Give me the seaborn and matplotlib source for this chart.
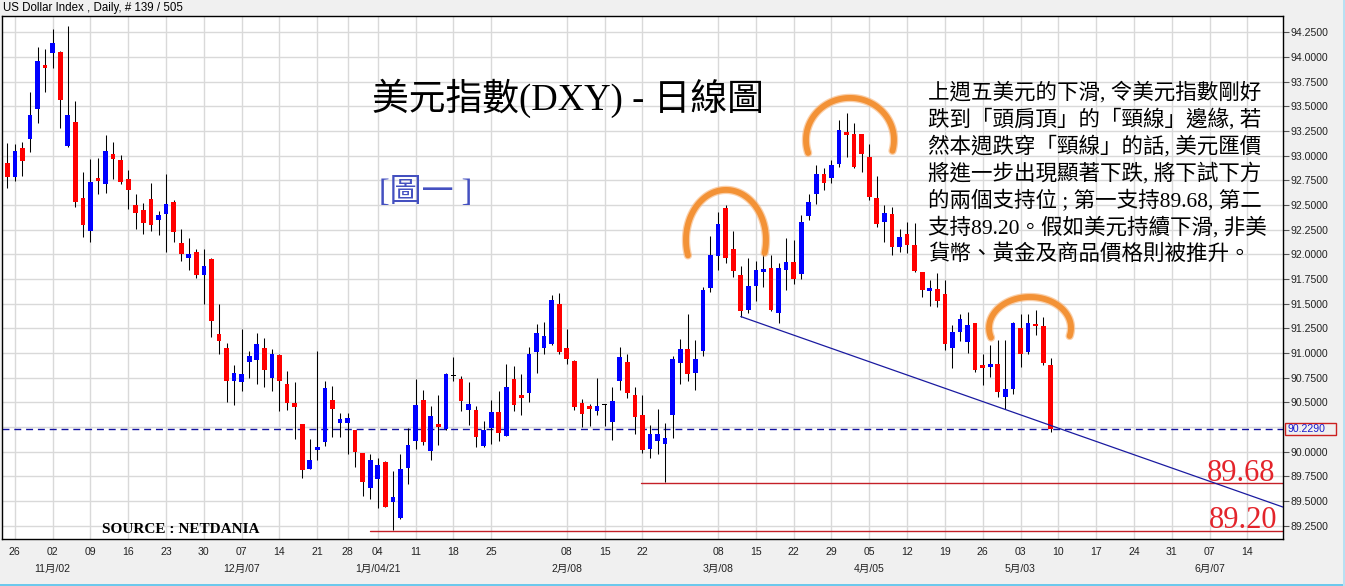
import numpy as np
import pandas as pd
import matplotlib
matplotlib.use("Agg")
import matplotlib.pyplot as plt
from matplotlib.patches import Rectangle
import seaborn as sns

# ---------------- data (daily OHLC, 23 Oct 2020 .. 7 May 2021, trading-day index) ----------------
opens = [92.93, 92.78, 93.08, 93.17, 93.47, 93.92, 94.04, 94.05, 93.10, 93.34,
         92.57, 92.24, 92.765, 92.71, 93.02, 92.96, 92.76, 92.50, 92.45, 92.56,
         92.35, 92.41, 92.53, 92.11, 91.96, 92.02, 91.79, 91.95, 91.19, 91.05,
         90.72, 90.71, 90.91, 90.93, 91.05, 90.75, 90.98, 90.69, 90.49, 90.28,
         89.83, 90.03, 90.10, 90.52, 90.29, 90.29, 90.22, 89.99, 89.63, 89.72,
         89.90, 89.49, 89.33, 89.84, 90.11, 90.52, 90.01, 90.28, 90.23, 90.775,
         90.74, 90.42, 90.42, 90.06, 90.24, 90.40, 90.16, 90.74, 90.57, 90.60,
         91.01, 91.05, 91.09, 91.50, 91.05, 90.92, 90.49, 90.46, 90.41, 90.48,
         90.30, 90.72, 90.91, 90.57, 90.37, 90.03, 90.11, 90.08, 90.37, 90.90,
         91.04, 90.80, 91.02, 91.66, 91.98, 92.47, 92.05, 91.79, 91.44, 91.68,
         91.83, 91.86, 91.41, 91.84, 91.92, 91.80, 92.39, 92.61, 92.81, 92.77,
         92.92, 93.24, 93.22, 93.22, 92.99, 92.57, 92.33, 92.41, 92.07, 92.21,
         92.09, 91.82, 91.63, 91.65, 91.60, 91.05, 91.21, 91.11, 91.30, 90.88,
         90.87, 90.89, 90.55, 90.64, 91.25, 91.01, 91.29, 91.27, 90.88]
highs = [93.13, 93.12, 93.14, 93.65, 94.10, 94.08, 94.28, 94.06, 94.31, 93.55,
         92.83, 92.97, 92.98, 93.21, 93.14, 93.01, 92.85, 92.61, 92.52, 92.72,
         92.44, 92.81, 92.55, 92.26, 92.17, 92.05, 92.05, 91.96, 91.50, 91.10,
         90.88, 91.24, 91.02, 91.20, 91.15, 91.04, 90.99, 90.82, 90.71, 90.28,
         90.13, 91.02, 90.72, 90.67, 90.39, 90.39, 90.22, 89.99, 89.98, 89.94,
         89.91, 89.80, 89.98, 90.24, 90.74, 90.63, 90.46, 90.58, 90.80, 90.96,
         90.77, 90.71, 90.46, 90.31, 90.52, 90.62, 90.89, 90.87, 90.79, 91.06,
         91.29, 91.31, 91.59, 91.61, 91.24, 90.93, 90.53, 90.48, 90.75, 90.48,
         90.66, 91.06, 90.99, 90.66, 90.58, 90.27, 90.43, 90.29, 90.97, 91.14,
         91.40, 91.13, 91.67, 92.19, 92.43, 92.50, 92.24, 91.88, 91.96, 91.93,
         92.03, 91.99, 91.91, 92.17, 92.15, 92.40, 92.61, 92.91, 92.87, 92.96,
         93.36, 93.43, 93.33, 93.22, 93.12, 92.79, 92.50, 92.48, 92.26, 92.33,
         92.32, 91.82, 91.74, 91.81, 91.74, 91.28, 91.40, 91.42, 91.30, 90.99,
         91.08, 91.13, 91.13, 91.31, 91.40, 91.40, 91.44, 91.37, 90.95]
lows = [92.67, 92.74, 92.79, 93.04, 93.33, 93.65, 93.89, 93.28, 93.09, 92.48,
        92.18, 92.13, 92.61, 92.62, 92.76, 92.71, 92.46, 92.26, 92.21, 92.24,
        92.20, 92.02, 92.13, 91.93, 91.84, 91.76, 91.50, 91.16, 90.99, 90.50,
        90.47, 90.62, 90.75, 90.69, 90.66, 90.62, 90.41, 90.42, 90.13, 89.73,
        89.83, 89.92, 90.06, 90.15, 90.15, 89.98, 89.85, 89.55, 89.52, 89.43,
        89.44, 89.21, 89.32, 89.67, 90.03, 90.07, 89.92, 90.07, 90.22, 90.72,
        90.41, 90.27, 90.05, 90.05, 90.08, 90.11, 90.16, 90.41, 90.37, 90.50,
        90.80, 90.99, 91.08, 90.99, 90.89, 90.42, 90.25, 90.26, 90.37, 90.26,
        90.12, 90.63, 90.54, 90.18, 89.99, 89.94, 89.98, 89.69, 90.14, 90.69,
        90.72, 90.63, 90.97, 91.62, 91.84, 91.91, 91.77, 91.37, 91.41, 91.53,
        91.67, 91.43, 91.30, 91.64, 91.70, 91.75, 92.35, 92.51, 92.65, 92.72,
        92.88, 92.99, 92.87, 92.83, 92.55, 92.28, 92.13, 91.99, 92.02, 92.01,
        91.82, 91.57, 91.48, 91.47, 91.03, 90.85, 91.12, 91.00, 90.81, 90.68,
        90.76, 90.55, 90.43, 90.59, 90.86, 90.99, 91.18, 90.88, 90.20]
closes = [92.78, 93.05, 92.95, 93.41, 93.96, 93.89, 94.14, 93.56, 93.41, 92.53,
          92.30, 92.73, 92.755, 93.05, 92.97, 92.73, 92.65, 92.42, 92.32, 92.30,
          92.40, 92.51, 92.23, 92.00, 92.00, 91.79, 91.88, 91.32, 91.12, 90.72,
          90.80, 90.79, 90.97, 91.09, 90.83, 90.99, 90.72, 90.49, 90.45, 89.82,
          89.92, 90.04, 90.65, 90.43, 90.33, 90.34, 90.00, 89.69, 89.92, 89.87,
          89.44, 89.54, 89.83, 90.07, 90.47, 90.10, 90.36, 90.25, 90.79, 90.775,
          90.51, 90.48, 90.15, 90.22, 90.40, 90.19, 90.66, 90.47, 90.55, 90.99,
          91.20, 91.17, 91.54, 91.01, 90.94, 90.45, 90.38, 90.43, 90.46, 90.48,
          90.51, 90.96, 90.60, 90.35, 90.02, 90.18, 90.18, 90.14, 90.94, 91.04,
          90.79, 90.94, 91.64, 91.99, 92.31, 91.96, 91.83, 91.43, 91.68, 91.84,
          91.84, 91.44, 91.86, 91.92, 91.75, 92.33, 92.53, 92.81, 92.72, 92.91,
          93.26, 93.21, 92.88, 93.02, 92.58, 92.31, 92.42, 92.07, 92.18, 92.09,
          91.83, 91.64, 91.66, 91.53, 91.09, 91.21, 91.34, 91.28, 90.83, 90.85,
          90.88, 90.61, 90.64, 91.30, 90.99, 91.30, 91.28, 90.90, 90.229]

# x-axis: trading-day index of each labelled Monday
tick_idx = [1, 6, 11, 16, 21, 26, 31, 36, 41, 45, 49, 54, 59, 64, 74, 79, 84,
            94, 99, 104, 109, 114, 119, 124, 129, 134, 139, 144, 149, 154, 159, 164]
tick_lbl = ['26', '02', '09', '16', '23', '30', '07', '14', '21', '28', '04', '11',
            '18', '25', '08', '15', '22', '08', '15', '22', '29', '05', '12', '19',
            '26', '03', '10', '17', '24', '31', '07', '14']
month_idx = [6, 31, 49, 74, 94, 114, 134, 159]
month_lbl = ['11月/02', '12月/07', '1月/04/21', '2月/08', '3月/08', '4月/05', '5月/03', '6月/07']

y_tick_vals = [89.25, 89.5, 89.75, 90.0, 90.5, 90.75, 91.0, 91.25, 91.5, 91.75,
               92.0, 92.25, 92.5, 92.75, 93.0, 93.25, 93.5, 93.75, 94.0, 94.25]
extra_grid = [90.25]

last_price = 90.229
support_levels = [89.68, 89.20]
support_start = [83.8, 48.0]
neck_x = [97.0, 168.7]
neck_y = [91.37, 89.44]

paragraph = [
    "上週五美元的下滑, 令美元指數剛好",
    "跌到「頭肩頂」的「頸線」邊緣, 若",
    "然本週跌穿「頸線」的話, 美元匯價",
    "將進一步出現顯著下跌, 將下試下方",
    "的兩個支持位 ; 第一支持89.68, 第二",
    "支持89.20。假如美元持續下滑, 非美",
    "貨幣、黃金及商品價格則被推升。",
]

# ---------------- styling ----------------
sns.set_style("white")
plt.rcParams['font.family'] = ['Liberation Sans', 'Noto Sans CJK TC']
SERIF = ['Liberation Serif', 'Noto Sans CJK TC']

W, H = 1345, 586
fig = plt.figure(figsize=(W / 100, H / 100), dpi=100, facecolor='#f0f0f0')
px_l, px_r, px_t, px_b = 2.0, 1282.5, 15.7, 539.3
ax = fig.add_axes([px_l / W, 1 - px_b / H, (px_r - px_l) / W, (px_b - px_t) / H])
ax.set_facecolor('white')
ax.set_xlim(-0.70, 168.65)
ax.set_ylim(89.113, 94.418)

df = pd.DataFrame({'o': opens, 'h': highs, 'l': lows, 'c': closes})
df['i'] = np.arange(len(df))

# grid
ax.set_xticks(tick_idx)
ax.set_xticklabels([''] * len(tick_idx))
ax.set_yticks(y_tick_vals)
ax.set_yticklabels([f"{v:.4f}" for v in y_tick_vals])
ax.grid(True, color='#d9d9d9', lw=1.0, zorder=0)
for g in extra_grid:
    ax.axhline(g, color='#d9d9d9', lw=1.0, zorder=0)
ax.set_axisbelow(True)

ax.tick_params(axis='x', length=0)
ax.yaxis.tick_right()
ax.tick_params(axis='y', direction='out', length=4, width=0.8, color='#555555',
               labelsize=7.6, labelcolor='#222222', pad=1.5)
for s in ax.spines.values():
    s.set_color('black')
    s.set_linewidth(1.0)

# candles
body_min = 0.025
up = df['c'] > df['o']
down = df['c'] < df['o']
flat = df['c'] == df['o']
colors = np.where(up, '#0000ff', np.where(down, '#ff0000', '#000000'))
mid = (df['o'] + df['c']) / 2
hgt = np.maximum((df['c'] - df['o']).abs(), body_min)
hgt = np.where(flat, 0.012, hgt)
ax.vlines(df['i'], df['l'], df['h'], color='black', lw=0.75, zorder=3)
ax.bar(df['i'], hgt, bottom=mid - hgt / 2, width=0.62, color=colors, linewidth=0, zorder=4)

# last price dashed line
ax.axhline(last_price, color='#1010a0', lw=1.0, ls=(0, (5, 3.5)), zorder=2)

# support lines & neckline (seaborn)
for lvl, st in zip(support_levels, support_start):
    sns.lineplot(x=[st, 168.65], y=[lvl, lvl], ax=ax, color='#c42028', lw=1.0, zorder=2)
sns.lineplot(x=neck_x, y=neck_y, ax=ax, color='#1a1aa0', lw=0.9, zorder=5)

# orange hand-drawn arcs (annotation)
arcs = [(95.05, 92.146, 5.29, 0.507), (111.45, 93.159, 5.82, 0.426), (135.26, 91.254, 5.42, 0.314)]
t = np.linspace(np.deg2rad(198), np.deg2rad(-15), 120)
for cx, cy, a, b in arcs:
    ax.plot(cx + a * np.cos(t), cy + b * np.sin(t), color='#f8b070', lw=6.0,
            solid_capstyle='round', alpha=0.6, zorder=6)
    ax.plot(cx + a * np.cos(t), cy + b * np.sin(t), color='#f39236', lw=4.2,
            solid_capstyle='round', zorder=6)

# texts inside plot
def axy(py):
    return 1 - (py - px_t) / (px_b - px_t)

def axx(px):
    return (px - px_l) / (px_r - px_l)

ax.text(axx(567.5), axy(98), "美元指數(DXY) - 日線圖", transform=ax.transAxes,
        ha='center', va='center', fontsize=26.5, family=SERIF, color='black', zorder=7)
ax.text(axx(425.5), axy(193), "[圖一 ]", transform=ax.transAxes,
        ha='center', va='center', fontsize=23, family=SERIF, color='#4450c0', zorder=7)
for k, line in enumerate(paragraph):
    ax.text(axx(927.7), axy(93 + 26.95 * k), line, transform=ax.transAxes,
            ha='left', va='center', fontsize=15.5, family=SERIF, color='black', zorder=7)
ax.text(axx(102), axy(529.5), "SOURCE : NETDANIA", transform=ax.transAxes,
        ha='left', va='center', fontsize=11, family=SERIF, weight='bold', color='black', zorder=7)
ax.text(axx(1275.5), 89.70, "89.68", transform=ax.get_yaxis_transform(), ha='right',
        va='baseline', fontsize=22, family=SERIF, color='#e3242b', zorder=7)
ax.text(axx(1277.5), 89.225, "89.20", transform=ax.get_yaxis_transform(), ha='right',
        va='baseline', fontsize=22, family=SERIF, color='#e3242b', zorder=7)

# x tick labels and month labels
xtr = ax.get_xaxis_transform()
for i, lb in zip(tick_idx, tick_lbl):
    ax.text(i, -(552 - px_b) / (px_b - px_t), lb, transform=xtr, ha='center', va='center',
            fontsize=7.6, color='#222222', clip_on=False)
for i, lb in zip(month_idx, month_lbl):
    ax.text(i, -(569 - px_b) / (px_b - px_t), lb, transform=xtr, ha='center', va='center',
            fontsize=7.6, color='#222222', clip_on=False)

# last price box on the right axis
fig.patches.append(Rectangle((1285 / W, 1 - 434.5 / H), 51 / W, 12 / H, transform=fig.transFigure,
                             facecolor='#f0f0f0', edgecolor='#cc2020', lw=1.0, zorder=5))
fig.text(1288 / W, 1 - 428.5 / H, f"{last_price:.4f}", ha='left', va='center', fontsize=7.6,
         color='#1a1acc', zorder=6)

# header and window decorations
fig.text(3 / W, 1 - 7.5 / H, "US Dollar Index , Daily, # 139 / 505", ha='left', va='center',
         fontsize=8.3, color='black')
fig.patches.append(Rectangle((0, 0), 1, 2.5 / H, transform=fig.transFigure,
                             facecolor='#6cc8ec', edgecolor='none', zorder=5))
fig.patches.append(Rectangle((1 - 2 / W, 0), 2 / W, 1, transform=fig.transFigure,
                             facecolor='#b8e0f2', edgecolor='none', zorder=5))

fig.savefig("out.png", dpi=100, facecolor=fig.get_facecolor())
